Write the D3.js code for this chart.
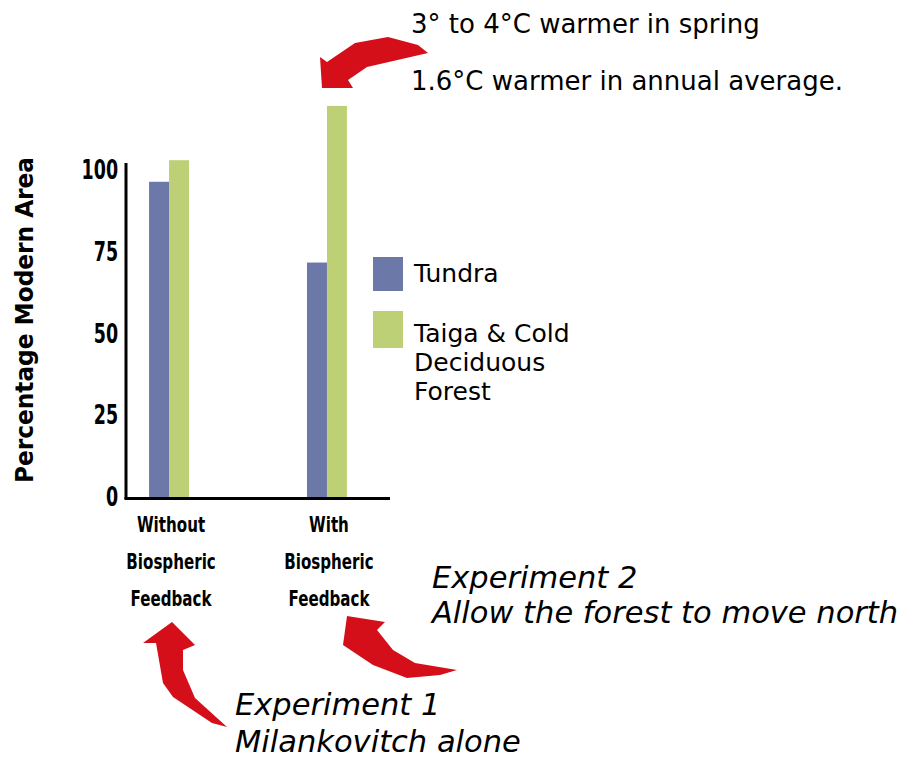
<!DOCTYPE html>
<html><head><meta charset="utf-8">
<script src="https://cdn.jsdelivr.net/npm/d3@7"></script>
<style>
body{margin:0;background:#fff;}
svg text{fill:#000;}
</style></head>
<body>
<svg id="c" width="897" height="759"></svg>
<script>
const categories = [["Without","Biospheric","Feedback"],["With","Biospheric","Feedback"]];
const categoryKeys = ["without","with"];
const seriesNames = ["Tundra","Taiga & Cold Deciduous Forest"];
const legendLines = [["Tundra"],["Taiga & Cold","Deciduous","Forest"]];
const tundra = [96.4, 71.7];
const taiga = [103, 119.6];
const yTicks = [0,25,50,75,100];
const colors = ["#6b78a8","#bdd075"];

const svg = d3.select("#c");
const x0 = d3.scaleBand().domain(categoryKeys).range([126,370]).paddingInner(0.747).paddingOuter(0.146);
const x1 = d3.scaleBand().domain([0,1]).range([0,x0.bandwidth()]);
const y = d3.scaleLinear().domain([0,100]).range([497,170]);

const condensed = "'DejaVu Sans Condensed','DejaVu Sans',sans-serif";
const sans = "'DejaVu Sans',sans-serif";

// bars
const groups = svg.append("g").selectAll("g").data(categoryKeys).join("g")
  .attr("transform", k => `translate(${x0(k)},0)`);
groups.selectAll("rect").data((k,i)=>[tundra[i],taiga[i]].map((v,j)=>({v,j})))
  .join("rect")
  .attr("x", d=>x1(d.j)).attr("width", x1.bandwidth())
  .attr("y", d=>y(d.v)).attr("height", d=>y(0)-y(d.v))
  .attr("fill", d=>colors[d.j]);

// y axis
const yAxis = d3.axisLeft(y).tickValues(yTicks).tickSize(0).tickPadding(11).tickFormat(d3.format("d"));
const ga = svg.append("g").attr("transform","translate(126,0)").call(yAxis);
ga.select(".domain").remove();
ga.selectAll("text").attr("font-family",condensed).attr("font-weight","bold").attr("font-size",27)
  .attr("fill","#000").attr("transform","scale(0.72,1)");
svg.append("line").attr("x1",126).attr("x2",126).attr("y1",163).attr("y2",499).attr("stroke","#000").attr("stroke-width",3);
svg.append("line").attr("x1",124.5).attr("x2",390).attr("y1",498.5).attr("y2",498.5).attr("stroke","#000").attr("stroke-width",3);

// category labels
categoryKeys.forEach((k,i)=>{
  const g = svg.append("g").attr("transform",`translate(${x0(k)+x0.bandwidth()/2+2},0) scale(0.8,1)`);
  const t = g.append("text").attr("text-anchor","middle")
    .attr("font-family",condensed).attr("font-weight","bold").attr("font-size",21);
  categories[i].forEach((line,li)=>{
    t.append("tspan").attr("x", 0).attr("y", 532+li*37).text(line);
  });
});

// y label
svg.append("text").attr("transform","translate(33,320) rotate(-90)").attr("text-anchor","middle")
  .attr("font-family",condensed).attr("font-weight","bold").attr("font-size",25)
  .attr("textLength",326).attr("lengthAdjust","spacingAndGlyphs")
  .text("Percentage Modern Area");

// legend
const legend = svg.append("g");
legend.append("rect").attr("x",373).attr("y",257).attr("width",30).attr("height",34).attr("fill",colors[0]);
legend.append("rect").attr("x",373).attr("y",311).attr("width",30).attr("height",37).attr("fill",colors[1]);
legendLines.forEach((lines,si)=>{
  const t = legend.append("text").attr("font-family",sans).attr("font-size",25);
  lines.forEach((s,i)=>t.append("tspan").attr("x",414).attr("y",(si===0?282:342)+i*29).text(s));
});

// top annotations
svg.append("text").attr("x",411).attr("y",33).attr("font-family",sans).attr("font-size",26).text("3° to 4°C warmer in spring");
svg.append("text").attr("x",411).attr("y",90).attr("font-family",sans).attr("font-size",26).text("1.6°C warmer in annual average.");

// experiment annotations
const e2 = svg.append("text").attr("font-family",sans).attr("font-style","italic").attr("font-size",30.5);
e2.append("tspan").attr("x",432).attr("y",588).text("Experiment 2");
e2.append("tspan").attr("x",432).attr("y",623).text("Allow the forest to move north");
const e1 = svg.append("text").attr("font-family",sans).attr("font-style","italic").attr("font-size",30.5);
e1.append("tspan").attr("x",235).attr("y",715).text("Experiment 1");
e1.append("tspan").attr("x",235).attr("y",752).text("Milankovitch alone");

// red arrows
const red = "#d40f1a";
const arrows = [
  [[322,88],[320,57],[327,62],[355,43],[388,37],[418,45],[428,53],[367,67],[348,80],[353,88]],
  [[172,622],[195,645],[183,650],[183,670],[195,698],[227,727],[212,723],[197,713],[173,697],[163,683],[156,643],[143,643]],
  [[347,616],[385,622],[377,630],[393,650],[415,663],[457,670],[440,675],[407,678],[373,665],[343,645]]
];
arrows.forEach(a=>svg.append("path").attr("d", d3.line()(a)+"Z").attr("fill",red));
</script>
</body></html>
